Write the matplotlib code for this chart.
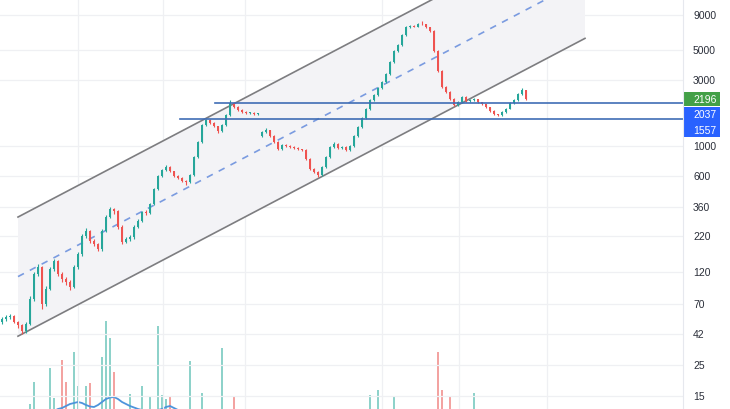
import matplotlib
matplotlib.use("Agg")
import matplotlib.pyplot as plt
import matplotlib.transforms as mtransforms
from matplotlib.patches import Rectangle

# ---------------- data ----------------
opens = [52, 54, 56, 57, 52, 49, 44.5, 50, 76, 116,
         130, 70, 90, 126, 144, 116, 106, 101, 93, 130,
         162, 219, 239, 201, 192, 176, 239, 302, 345, 334,
         256, 198, 208, 215, 256, 282, 328, 322, 375, 483,
         602, 665, 700, 654, 602, 581, 552, 543, 612, 827,
         1064, 1416, 1540, 1465, 1392, 1280, 1416, 1675, 2050, 1916,
         1822, 1762, 1733, 1745, 1704, 1177, 1259, 1302, 1177, 1064,
         946, 1012, 995, 978, 962, 946, 930, 800, 676, 641,
         612, 700, 827, 978, 1029, 962, 978, 930, 995, 1177,
         1369, 1593, 1853, 2155, 2344, 2638, 2918, 3337, 4083, 4900,
         5430, 6425, 7350, 7480, 7420, 7733, 7700, 7350, 6870, 4910,
         3510, 2683, 2468, 2192, 1982, 2085, 2270, 2120, 2155, 2192,
         2085, 2016, 1916, 1792, 1704, 1675, 1762, 1853, 2050, 2155,
         2384, 2550]
highs = [56, 58, 59, 58, 53, 50, 52, 80, 120, 138,
         132, 94, 130, 150, 146, 120, 110, 104, 134, 168,
         226, 250, 242, 208, 196, 245, 310, 360, 352, 338,
         262, 215, 222, 262, 290, 336, 340, 385, 495, 615,
         680, 720, 710, 660, 612, 590, 560, 625, 845, 1090,
         1450, 1580, 1560, 1480, 1400, 1440, 1710, 2150, 2100, 1940,
         1840, 1780, 1760, 1755, 1745, 1290, 1340, 1310, 1190, 1075,
         1030, 1025, 1005, 990, 975, 955, 940, 810, 685, 650,
         715, 840, 995, 1060, 1040, 995, 990, 1010, 1200, 1400,
         1630, 1900, 2200, 2400, 2700, 2990, 3420, 4180, 5020, 5560,
         6580, 7520, 7650, 7620, 7900, 8100, 7800, 7400, 6950, 4980,
         3550, 2720, 2500, 2220, 2120, 2310, 2290, 2190, 2230, 2210,
         2100, 2030, 1930, 1810, 1720, 1790, 1880, 2090, 2200, 2430,
         2620, 2570]
lows = [50, 53, 54, 51, 47, 42.5, 43, 49, 74, 112,
        64, 68, 88, 122, 112, 102, 97, 88, 91, 127,
        158, 212, 196, 186, 170, 172, 233, 295, 320, 248,
        192, 194, 202, 210, 250, 276, 314, 318, 368, 475,
        590, 650, 640, 590, 570, 540, 520, 535, 605, 815,
        1050, 1400, 1440, 1370, 1250, 1265, 1400, 1650, 1890, 1800,
        1740, 1715, 1710, 1690, 1690, 1160, 1245, 1160, 1045, 930,
        935, 980, 965, 950, 935, 915, 790, 665, 630, 595,
        605, 690, 815, 965, 950, 950, 915, 920, 985, 1165,
        1355, 1575, 1830, 2130, 2320, 2610, 2890, 3300, 4040, 4850,
        5380, 6360, 7250, 7300, 7350, 7600, 7250, 6800, 4850, 3450,
        2640, 2430, 2160, 1950, 1960, 2060, 2090, 2100, 2130, 2060,
        1990, 1890, 1770, 1680, 1640, 1660, 1745, 1840, 2030, 2140,
        2360, 2170]
closes = [54, 56, 57, 52, 49, 44.5, 50, 76, 116, 130,
          70, 90, 126, 144, 116, 106, 101, 93, 130, 162,
          219, 239, 201, 192, 176, 239, 302, 345, 334, 256,
          198, 208, 215, 256, 282, 328, 322, 375, 483, 602,
          665, 700, 654, 602, 581, 552, 543, 612, 827, 1064,
          1416, 1540, 1465, 1392, 1280, 1416, 1675, 2050, 1916, 1822,
          1762, 1733, 1745, 1704, 1733, 1259, 1302, 1177, 1064, 946,
          1012, 995, 978, 962, 946, 930, 800, 676, 641, 612,
          700, 827, 978, 1029, 962, 978, 930, 995, 1177, 1369,
          1593, 1853, 2155, 2344, 2638, 2918, 3337, 4083, 4900, 5430,
          6425, 7350, 7480, 7420, 7733, 7700, 7350, 6870, 4910, 3510,
          2683, 2468, 2192, 1982, 2085, 2270, 2120, 2155, 2192, 2085,
          2016, 1916, 1792, 1704, 1675, 1762, 1853, 2050, 2155, 2384,
          2550, 2196]
volumes = [7, 7, 7, 7, 7, 7, 7, 15, 37, 8,
           9, 8, 51, 21, 9, 59, 37, 8, 67, 33,
           9, 33, 36, 8, 9, 62, 98, 81, 47, 9,
           8, 8, 25, 8, 8, 33, 8, 22, 9, 93,
           24, 20, 23, 8, 8, 8, 8, 58, 9, 9,
           26, 8, 8, 8, 8, 71, 9, 9, 22, 7,
           7, 7, 7, 7, 7, 7, 7, 7, 7, 7,
           7, 7, 7, 7, 7, 7, 7, 7, 7, 7,
           7, 7, 7, 7, 7, 7, 7, 7, 7, 7,
           7, 7, 24, 8, 29, 8, 8, 8, 22, 7,
           7, 7, 7, 7, 7, 7, 7, 7, 7, 67,
           29, 8, 23, 7, 7, 7, 7, 7, 26, 7,
           7, 7, 7, 7, 7, 7, 7, 7, 7, 7,
           7, 7]
volume_ma = [8, 8, 8, 8, 8, 8, 8, 8, 8, 8,
             8, 8, 8, 8, 10, 11, 13, 15, 16, 17,
             16, 14, 12.5, 12, 14, 17, 20, 21.5, 22, 20,
             17, 15, 13, 11.5, 10, 9, 9, 9, 9, 9,
             10, 12, 13, 11, 9, 8, 8, 8, 8, 8] + [8] * 82

price_ticks = [15, 25, 42, 70, 120, 220, 360, 600, 1000, 3000, 5000, 9000]
month_lines = [19, 40.25, 60.75, 95, 114.25, 136.25]
channel_x = [4.0, 145.75]
channel_upper = [302, 44940]
channel_mid = [111, 16530]
channel_lower = [40.8, 6080]
level_prices = [2037, 1557]
level_start = [53.25, 44.5]
last_price = 2196

# ---------------- figure ----------------
UP, DOWN = "#26a69a", "#ef5350"
VUP, VDOWN = "#8ed2ca", "#f3a3a1"

fig = plt.figure(figsize=(7.3, 4.1), dpi=100)
fig.patch.set_facecolor("white")
rect = [0, 0, 683 / 730, 1]

vax = fig.add_axes(rect)
vax.set_xlim(-0.5, 170.25)
vax.set_ylim(10, 420)
vax.set_axis_off()

ax = fig.add_axes(rect, sharex=vax)
ax.patch.set_visible(False)
ax.set_yscale("log")
ax.set_xlim(-0.5, 170.25)
ax.set_ylim(12.0, 11780)
for s in ax.spines.values():
    s.set_visible(False)
ax.set_xticks([])
ax.set_yticks([])
ax.minorticks_off()

# grid
for v in price_ticks:
    ax.axhline(v, color="#eff0f3", lw=0.9, zorder=0)
for m in month_lines:
    ax.axvline(m, color="#eff0f3", lw=0.9, zorder=0)

# channel
ax.fill_between(channel_x, channel_lower, channel_upper, color="#f3f3f6", zorder=0.5, lw=0)
ax.plot(channel_x, channel_upper, color="#7d7d80", lw=1.2, zorder=1)
ax.plot(channel_x, channel_lower, color="#7d7d80", lw=1.2, zorder=1)
ax.plot(channel_x, channel_mid, color="#7a9be0", lw=1.2, dashes=(4, 4), zorder=1)

# volume
idx = list(range(len(closes)))
vcols = [VUP if c >= o else VDOWN for o, c in zip(opens, closes)]
vax.bar(idx, volumes, width=0.35, color=vcols, zorder=1)
vax.plot(idx, volume_ma, color="#4d94dc", lw=1.3, zorder=2)

# candles
cols = [UP if c >= o else DOWN for o, c in zip(opens, closes)]
ax.vlines(idx, lows, highs, colors=cols, lw=0.8, zorder=3)
bottoms = [min(o, c) for o, c in zip(opens, closes)]
heights = [max(abs(c - o), min(o, c) * 0.012) for o, c in zip(opens, closes)]
ax.bar(idx, heights, bottom=bottoms, width=0.6, color=cols, zorder=3, lw=0)

# horizontal levels
for p, x0 in zip(level_prices, level_start):
    ax.plot([x0, 170.25], [p, p], color="#3f6db5", lw=1.2, zorder=4)

# right axis labels
tr = mtransforms.blended_transform_factory(fig.transFigure, ax.transData)
for v in price_ticks:
    ax.text(693 / 730, v, f"{v}", transform=tr, ha="left", va="center",
            fontsize=7.5, color="#2a2e39", family="Liberation Sans", clip_on=False)
fig.add_artist(plt.Line2D([683 / 730, 683 / 730], [0, 1], color="#e6e8ee", lw=0.8))

# price label boxes
boxes = [(93, 107, "#43a047", f"{last_price}"),
         (108, 123, "#2962ff", f"{level_prices[0]}"),
         (123, 138, "#2962ff", f"{level_prices[1]}")]
for y0, y1, col, txt in boxes:
    fig.add_artist(Rectangle((683 / 730, 1 - y1 / 410), 37 / 730, (y1 - y0) / 410,
                             transform=fig.transFigure, facecolor=col, edgecolor="none"))
    fig.text(693 / 730, 1 - (y0 + y1) / 2 / 410, txt, ha="left", va="center",
             fontsize=7.5, color="white", family="Liberation Sans")

fig.savefig("out.png", dpi=100, facecolor="white")
